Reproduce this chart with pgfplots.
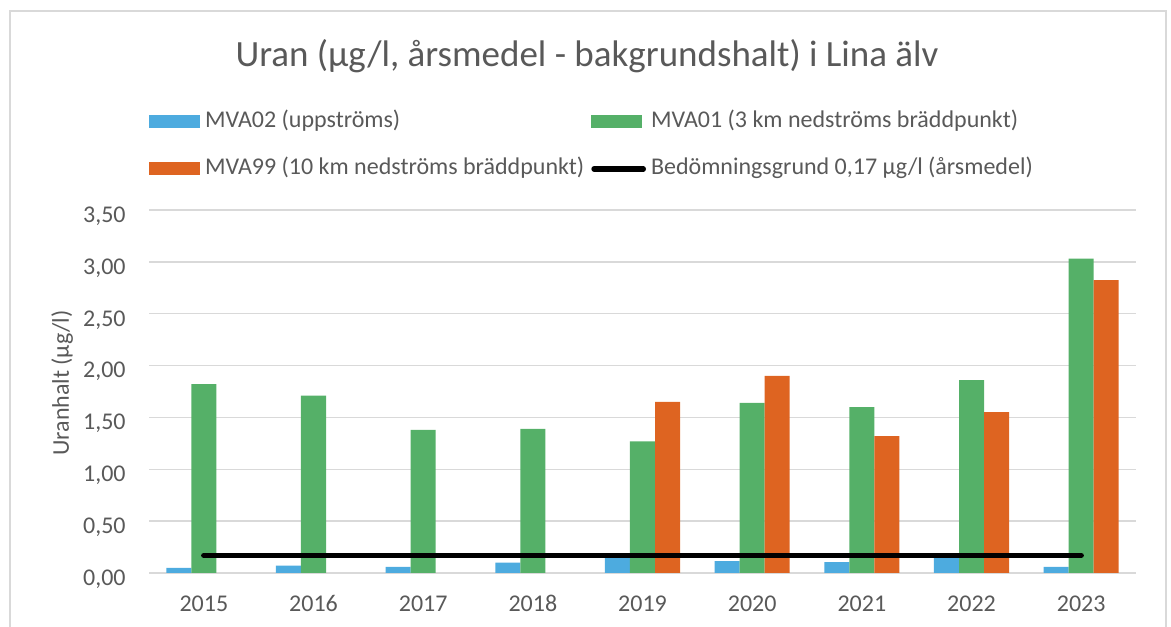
\documentclass[border=0pt]{standalone}
\usepackage{fontspec}
\setmainfont{Carlito}
\usepackage{pgfplots}
\pgfplotsset{compat=1.18}
\definecolor{cblue}{RGB}{77,171,223}
\definecolor{cgreen}{RGB}{85,176,104}
\definecolor{corange}{RGB}{222,100,33}
\definecolor{ctext}{RGB}{89,89,89}
\definecolor{cgrid}{RGB}{217,217,217}
\begin{document}
\begin{tikzpicture}
\path[use as bounding box] (0,0) rectangle (585.5pt,313pt);
\draw[cgrid, line width=0.8pt] (5pt,-5pt) -- (5pt,307.5pt) -- (583pt,307.5pt) -- (583pt,-5pt);
\begin{axis}[
  at={(74.5pt,26.5pt)}, anchor=south west,
  scale only axis, width=493.5pt, height=181.5pt,
  xmin=-0.5, xmax=8.5, ymin=0, ymax=3.5,
  xtick={0,...,8},
  xticklabels={2015,2016,2017,2018,2019,2020,2021,2022,2023},
  ytick={0,0.5,1,1.5,2,2.5,3,3.5},
  /pgf/number format/fixed,
  /pgf/number format/fixed zerofill,
  /pgf/number format/precision=2,
  /pgf/number format/use comma,
  /pgf/number format/assume math mode=true,
  axis x line=bottom, axis y line=left,
  axis line style={-},
  y axis line style={draw=none},
  x axis line style={draw=cgrid, line width=0.8pt},
  major tick length=0pt,
  ymajorgrids, major grid style={cgrid, line width=0.65pt},
  every tick label/.append style={font=\fontsize{12}{14}\selectfont, text=ctext},
  yticklabel style={inner sep=0pt, anchor=base east, xshift=-11.5pt, yshift=-6.2pt},
  xticklabel style={inner sep=0pt, anchor=base, yshift=-19.3pt},
  title={Uran (µg/l, årsmedel - bakgrundshalt) i Lina älv},
  title style={at={(axis description cs:0.4438,1.391)}, anchor=center, font=\fontsize{18.5}{22}\selectfont, text=ctext, inner sep=0pt},
  ylabel={Uranhalt (µg/l)},
  ylabel style={at={(axis description cs:-0.0881,0.523)}, anchor=center, font=\fontsize{12}{14}\selectfont, text=ctext, inner sep=0pt},
  legend columns=2,
  legend cell align=left,
  legend style={at={(axis description cs:0,1.2755)}, anchor=north west, draw=none, fill=none, inner sep=0pt, outer sep=0pt,
    column sep=2.5pt, row sep=11.5pt,
    /tikz/every even column/.append style={column sep=3.5pt},
    nodes={inner sep=0pt, text height=9pt, text depth=3pt, font=\fontsize{12}{14}\selectfont, text=ctext}},
]
\addplot[ybar, bar width=0.228, bar shift=-0.228, fill=cblue, draw=none,
  legend image code/.code={\fill[cblue] (0pt,-3.25pt) rectangle (25.5pt,3.25pt);}]
  coordinates {(0,0.05) (1,0.07) (2,0.06) (3,0.10) (4,0.15) (5,0.115) (6,0.105) (7,0.15) (8,0.06)};
\addlegendentry{MVA02 (uppströms)}
\addplot[ybar, bar width=0.228, bar shift=0, fill=cgreen, draw=none,
  legend image code/.code={\fill[cgreen] (0pt,-3.25pt) rectangle (25.5pt,3.25pt);}]
  coordinates {(0,1.82) (1,1.71) (2,1.38) (3,1.39) (4,1.27) (5,1.64) (6,1.60) (7,1.86) (8,3.03)};
\addlegendentry{MVA01 (3 km nedströms bräddpunkt)}
\addplot[ybar, bar width=0.228, bar shift=0.228, fill=corange, draw=none,
  legend image code/.code={\fill[corange] (0pt,-3.25pt) rectangle (25.5pt,3.25pt);}]
  coordinates {(4,1.65) (5,1.90) (6,1.32) (7,1.55) (8,2.825)};
\addlegendentry{MVA99 (10 km nedströms bräddpunkt)}
\addplot[black, line width=2.75pt, line cap=round, sharp plot, mark=none,
  legend image code/.code={\draw[black, line width=2.75pt, line cap=round] (1.4pt,0pt) -- (26pt,0pt);}]
  coordinates {(0,0.17) (1,0.17) (2,0.17) (3,0.17) (4,0.17) (5,0.17) (6,0.17) (7,0.17) (8,0.17)};
\addlegendentry{Bedömningsgrund 0,17 µg/l (årsmedel)}
\end{axis}
\end{tikzpicture}
\end{document}
